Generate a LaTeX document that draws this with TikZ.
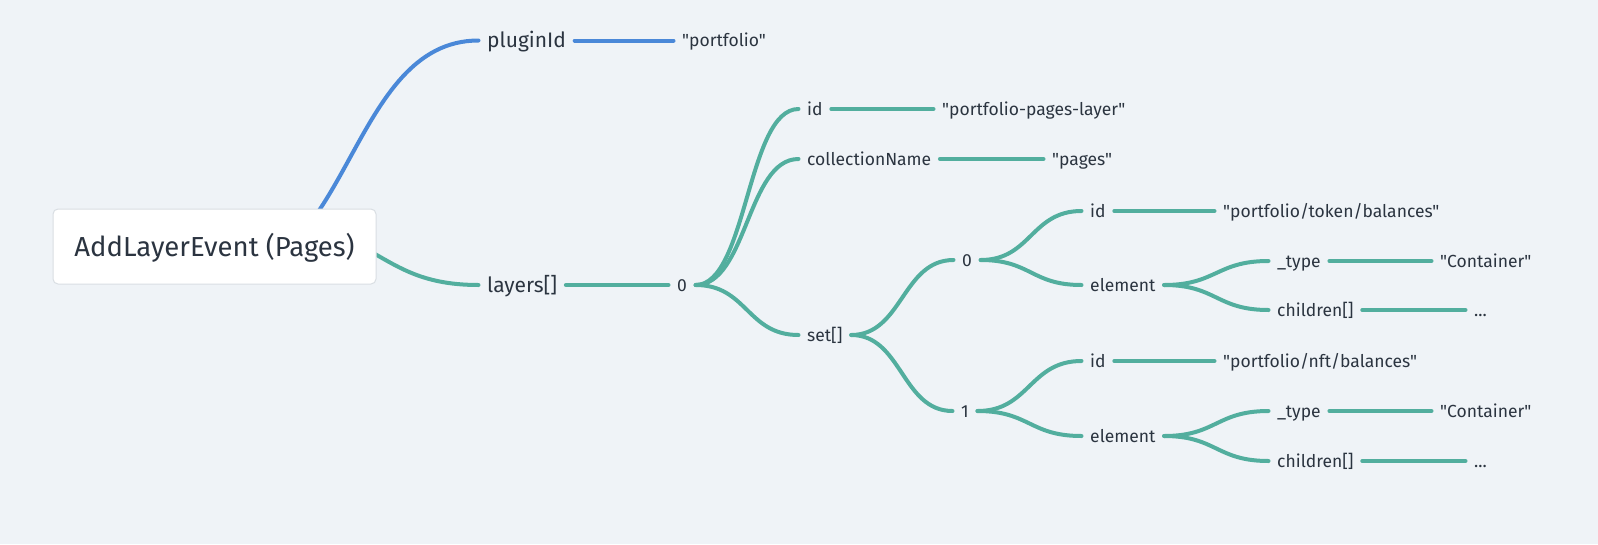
\documentclass[tikz,border=0pt]{standalone}
\usepackage{fontspec}
\setmainfont{Fira Sans}[Ligatures=TeXOff]
\usetikzlibrary{calc}
\definecolor{bgc}{HTML}{EFF3F7}
\definecolor{blu}{HTML}{4A88D8}
\definecolor{tea}{HTML}{52AE9E}
\definecolor{ink}{HTML}{2B3440}
\definecolor{bord}{HTML}{D9DEE3}
\pgfdeclarelayer{back}
\pgfdeclarelayer{edges}
\pgfsetlayers{back,edges,main}
\tikzset{
  lone/.style={font=\fontsize{21}{21}\selectfont, text=ink, anchor=west,
    inner xsep=8.5pt, inner ysep=0pt, text height=14.5pt, text depth=0pt},
  ltwo/.style={font=\fontsize{17.5}{17.5}\selectfont, text=ink, anchor=west,
    inner xsep=8.5pt, inner ysep=0pt, text height=12pt, text depth=0pt},
  rootbox/.style={font=\fontsize{27.5}{27.5}\selectfont, text=ink, fill=white,
    draw=bord, line width=1pt, rounded corners=5pt, minimum width=323pt,
    minimum height=75pt, inner sep=0pt, text height=19pt, text depth=0pt},
  link/.style={line width=4pt, line cap=round},
}
\newcommand\lnk[3]{%
  \path ($(#2)!0.5!(#3)$) coordinate (mid);
  \draw[link,#1] (#2) .. controls (mid |- #2) and (mid |- #3) .. (#3);}
\begin{document}
\begin{tikzpicture}[x=1pt,y=-1pt]
\begin{pgfonlayer}{back}
\fill[bgc] (0,0) rectangle (1598,544);
\end{pgfonlayer}
\useasboundingbox (0,0) rectangle (1598,544);
% hidden link origins behind the root box
\coordinate (rb) at (222,274);
\coordinate (rt) at (282,229);
% level 1
\node[lone] (plug) at (478.5,40.5) {pluginId};
\node[ltwo] (plugv) at (673.5,40.5) {"portfolio"};
\node[lone] (lay) at (478.5,285) {layers[]};
% level 2
\node[ltwo] (z0) at (668.5,285) {0};
\node[ltwo] (id1) at (798.5,109) {id};
\node[ltwo] (id1v) at (933.5,109) {"portfolio-pages-layer"};
\node[ltwo] (cn) at (798.5,159) {collectionName};
\node[ltwo] (cnv) at (1043.5,159) {"pages"};
\node[ltwo] (set) at (798.5,335) {set[]};
\node[ltwo] (s0) at (953.5,260) {0};
\node[ltwo] (s1) at (952.5,411) {1};
% set[0]
\node[ltwo] (aid) at (1081.5,211) {id};
\node[ltwo] (aidv) at (1214.5,211) {"portfolio/token/balances"};
\node[ltwo] (ael) at (1081.5,285) {element};
\node[ltwo] (aty) at (1268.5,261) {\_type};
\node[ltwo] (atyv) at (1431.5,261) {"Container"};
\node[ltwo] (ach) at (1268.5,310) {children[]};
\node[ltwo] (achv) at (1465.5,310) {...};
% set[1]
\node[ltwo] (bid) at (1081.5,361) {id};
\node[ltwo] (bidv) at (1214.5,361) {"portfolio/nft/balances"};
\node[ltwo] (bel) at (1081.5,436) {element};
\node[ltwo] (bty) at (1268.5,411) {\_type};
\node[ltwo] (btyv) at (1431.5,411) {"Container"};
\node[ltwo] (bch) at (1268.5,461) {children[]};
\node[ltwo] (bchv) at (1465.5,461) {...};
\begin{pgfonlayer}{edges}
\lnk{blu}{rb}{plug.west}
\lnk{blu}{plug.east}{plugv.west}
\lnk{tea}{rt}{lay.west}
\lnk{tea}{lay.east}{z0.west}
\lnk{tea}{z0.east}{id1.west}
\lnk{tea}{id1.east}{id1v.west}
\lnk{tea}{z0.east}{cn.west}
\lnk{tea}{cn.east}{cnv.west}
\lnk{tea}{z0.east}{set.west}
\lnk{tea}{set.east}{s0.west}
\lnk{tea}{set.east}{s1.west}
\lnk{tea}{s0.east}{aid.west}
\lnk{tea}{aid.east}{aidv.west}
\lnk{tea}{s0.east}{ael.west}
\lnk{tea}{ael.east}{aty.west}
\lnk{tea}{aty.east}{atyv.west}
\lnk{tea}{ael.east}{ach.west}
\lnk{tea}{ach.east}{achv.west}
\lnk{tea}{s1.east}{bid.west}
\lnk{tea}{bid.east}{bidv.west}
\lnk{tea}{s1.east}{bel.west}
\lnk{tea}{bel.east}{bty.west}
\lnk{tea}{bty.east}{btyv.west}
\lnk{tea}{bel.east}{bch.west}
\lnk{tea}{bch.east}{bchv.west}
\end{pgfonlayer}
\node[rootbox] (root) at (214.5,246.5) {AddLayerEvent (Pages)};
\end{tikzpicture}
\end{document}
